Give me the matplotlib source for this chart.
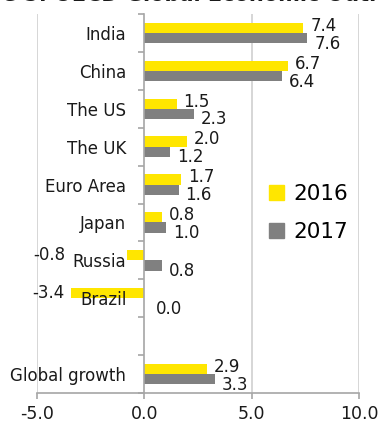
import matplotlib
matplotlib.use("Agg")
import matplotlib.pyplot as plt
from matplotlib.patches import Patch
import numpy as np

# ===== Data =====
regions = ["India", "China", "The US", "The UK", "Euro Area", "Japan",
           "Russia", "Brazil", "", "Global growth"]
growth_2016 = [7.4, 6.7, 1.5, 2.0, 1.7, 0.8, -0.8, -3.4, np.nan, 2.9]
growth_2017 = [7.6, 6.4, 2.3, 1.2, 1.6, 1.0, 0.8, 0.0, np.nan, 3.3]
x_ticks = [-5.0, 0.0, 5.0, 10.0]

YELLOW = "#FFE600"
GREY = "#808080"
AXIS = "#A6A6A6"
GRID = "#D0D0D0"
TEXT = "#1a1a1a"

plt.rcParams["font.family"] = ["DejaVu Sans"]

fig = plt.figure(figsize=(3.79, 4.24), dpi=100)
ax = fig.add_axes([37 / 379, 1 - 393 / 424, 322 / 379, 379 / 424])

n = len(regions)
ypos = np.arange(n)[::-1]  # first region on top
bar_h = 0.27

ax.barh(ypos + bar_h / 2, growth_2016, height=bar_h, color=YELLOW, zorder=1)
ax.barh(ypos - bar_h / 2, growth_2017, height=bar_h, color=GREY, zorder=1)

# value labels
for y, v16, v17 in zip(ypos, growth_2016, growth_2017):
    if np.isnan(v16):
        continue
    if v16 < 0:
        ax.annotate(f"{v16:.1f}", (-3.7, y + bar_h / 2), ha="right", va="center",
                    fontsize=12, color=TEXT, zorder=3)
    else:
        ax.annotate(f"{v16:.1f}", (v16, y + bar_h / 2), xytext=(5, 1.5),
                    textcoords="offset points", ha="left", va="center",
                    fontsize=12, color=TEXT, zorder=3)
    ax.annotate(f"{v17:.1f}", (max(v17, 0.2), y - bar_h / 2), xytext=(5, -4),
                textcoords="offset points", ha="left", va="center",
                fontsize=12, color=TEXT, zorder=3)

# vertical grid lines
for gx in x_ticks:
    if gx != 0:
        ax.axvline(gx, color=GRID, lw=1.2, zorder=0)

ax.set_xlim(-5, 10)
ax.set_ylim(-0.5, n - 0.5)

ax.spines["top"].set_visible(False)
ax.spines["right"].set_visible(False)
ax.spines["left"].set_position(("data", 0))
ax.spines["left"].set_color(AXIS)
ax.spines["bottom"].set_color(AXIS)
ax.spines["left"].set_linewidth(1.2)
ax.spines["bottom"].set_linewidth(1.2)

ax.set_xticks(x_ticks)
ax.set_xticklabels([f"{t:.1f}" for t in x_ticks], fontsize=12.5, color=TEXT)
ax.tick_params(axis="x", direction="out", length=4, width=1.2, color=AXIS, pad=4.5)

# tick marks between categories, labels at the category centres
ax.set_yticks(np.arange(-0.5, n, 1.0))
ax.set_yticklabels([])
ax.tick_params(axis="y", which="major", direction="out", length=4, width=1.2, color=AXIS)
ax.set_yticks(ypos, minor=True)
ax.set_yticklabels(regions, minor=True, fontsize=12, color=TEXT)
ax.tick_params(axis="y", which="minor", length=0, pad=13)

handles = [Patch(color=YELLOW, label="2016"), Patch(color=GREY, label="2017")]
fig.legend(handles=handles, loc="center left", bbox_to_anchor=(250 / 379, 1 - 213 / 424),
           frameon=False, fontsize=15.5, handlelength=0.7, handleheight=0.7,
           handletextpad=0.4, labelspacing=0.85)

fig.text(-0.155, 1 + 5 / 424, "Figure 5: OECD Global Economic Outlook", ha="left", va="center",
         fontsize=15, fontweight="bold", color=TEXT)

fig.savefig("out.png", dpi=100)
